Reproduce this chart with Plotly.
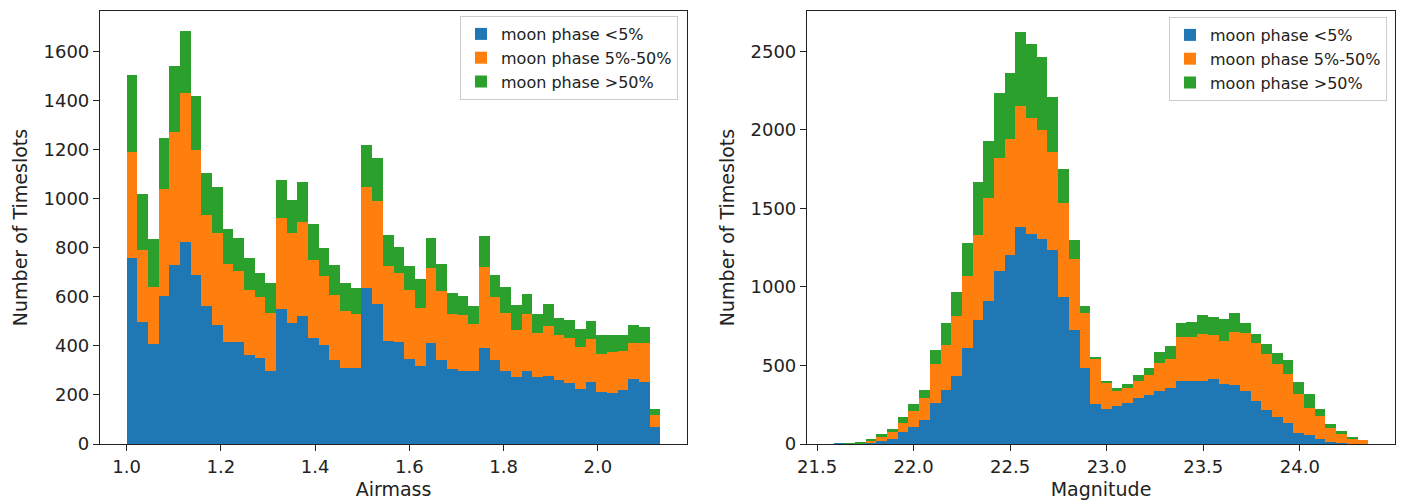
import plotly.graph_objects as go
from plotly.subplots import make_subplots

# ---------------- data ----------------
series_names = ["moon phase <5%", "moon phase 5%-50%", "moon phase >50%"]
colors = ["#1f77b4", "#ff7f0e", "#2ca02c"]

# Airmass histogram: 50 bins starting at 1.0
airmass_bin_start = 1.0
airmass_bin_width = 0.02265
airmass_new = [759, 497, 409, 602, 731, 823, 687, 561, 484, 416,
               416, 362, 352, 297, 550, 493, 521, 432, 405, 344,
               308, 308, 636, 569, 420, 416, 348, 317, 412, 342,
               304, 298, 298, 392, 344, 298, 274, 298, 271, 277,
               260, 249, 226, 254, 213, 209, 220, 263, 254, 68]
airmass_mid = [432, 292, 231, 435, 539, 606, 511, 370, 377, 316,
               289, 267, 247, 238, 372, 368, 382, 319, 278, 265,
               233, 223, 411, 419, 304, 282, 281, 239, 306, 282,
               227, 227, 189, 329, 255, 236, 192, 233, 183, 203,
               183, 181, 170, 172, 152, 167, 158, 149, 158, 50]
airmass_full = [312, 228, 196, 210, 271, 252, 221, 172, 186, 142,
                135, 130, 98, 122, 152, 135, 165, 146, 115, 122,
                116, 105, 172, 178, 126, 104, 95, 118, 122, 111,
                86, 77, 76, 125, 88, 106, 99, 82, 77, 92,
                71, 74, 74, 76, 78, 67, 65, 72, 63, 23]

# Magnitude histogram: 50 bins starting at 21.586
mag_bin_start = 21.586
mag_bin_width = 0.05537
mag_new = [1, 3, 4, 8, 20, 33, 75, 110, 155, 263,
           344, 435, 609, 790, 911, 1104, 1204, 1380, 1338, 1304,
           1236, 938, 726, 482, 255, 221, 240, 262, 290, 310,
           338, 355, 400, 404, 400, 413, 384, 378, 340, 276,
           217, 170, 132, 72, 57, 30, 15, 4, 0, 0]
mag_mid = [0, 2, 2, 15, 25, 43, 59, 102, 136, 244,
           287, 380, 463, 541, 654, 720, 739, 769, 736, 696,
           622, 595, 452, 353, 285, 170, 100, 93, 112, 127,
           176, 185, 284, 280, 298, 278, 275, 333, 365, 365,
           357, 340, 314, 247, 170, 148, 85, 60, 36, 25]
mag_full = [0, 1, 2, 8, 17, 17, 40, 43, 53, 92,
            138, 155, 210, 340, 367, 414, 418, 477, 472, 461,
            350, 219, 121, 45, 15, 13, 17, 26, 38, 49,
            74, 87, 87, 91, 124, 120, 137, 124, 64, 58,
            61, 72, 89, 78, 90, 45, 25, 19, 11, 0]

airmass_ticks = [1.0, 1.2, 1.4, 1.6, 1.8, 2.0]
airmass_counts_ticks = [0, 200, 400, 600, 800, 1000, 1200, 1400, 1600]
mag_ticks = [21.5, 22.0, 22.5, 23.0, 23.5, 24.0]
mag_counts_ticks = [0, 500, 1000, 1500, 2000, 2500]

# ---------------- figure ----------------
W, H = 1403, 500
ML, MR, MT, MB = 100, 8, 11, 56
PW = W - ML - MR
PH = H - MT - MB

def px_x(p):
    return (p - ML) / PW

def px_y(p):
    return (H - MB - p) / PH

fig = make_subplots(rows=1, cols=2)

air_centers = [airmass_bin_start + (k + 0.5) * airmass_bin_width for k in range(len(airmass_new))]
mag_centers = [mag_bin_start + (k + 0.5) * mag_bin_width for k in range(len(mag_new))]

for name, col, vals in zip(series_names, colors, [airmass_new, airmass_mid, airmass_full]):
    fig.add_trace(go.Bar(x=air_centers, y=vals, width=airmass_bin_width, name=name,
                         marker=dict(color=col, line=dict(width=0)), legend="legend"),
                  row=1, col=1)
for name, col, vals in zip(series_names, colors, [mag_new, mag_mid, mag_full]):
    fig.add_trace(go.Bar(x=mag_centers, y=vals, width=mag_bin_width, name=name,
                         marker=dict(color=col, line=dict(width=0)), legend="legend2"),
                  row=1, col=2)

FONT = "DejaVu Sans"
tick_font = dict(family=FONT, size=18, color="#222")
title_font = dict(family=FONT, size=19, color="#222")

axis_common = dict(showline=True, mirror=True, linecolor="#222", linewidth=1.2,
                   ticks="outside", ticklen=6, tickwidth=1.2, tickcolor="#222",
                   showgrid=False, zeroline=False, tickfont=tick_font, automargin=False)

fig.update_xaxes(domain=[0, px_x(687)], range=[0.9434, 2.1891], tickvals=airmass_ticks,
                 tickformat=".1f", title=dict(text="Airmass", font=title_font, standoff=8),
                 row=1, col=1, **axis_common)
fig.update_xaxes(domain=[px_x(807), px_x(1395)], range=[21.448, 24.493], tickvals=mag_ticks,
                 tickformat=".1f", title=dict(text="Magnitude", font=title_font, standoff=8),
                 row=1, col=2, **axis_common)
fig.update_yaxes(range=[0, 1764], tickvals=airmass_counts_ticks,
                 title=dict(text="Number of Timeslots", font=title_font, standoff=10),
                 row=1, col=1, **axis_common)
fig.update_yaxes(range=[0, 2757], tickvals=mag_counts_ticks,
                 title=dict(text="Number of Timeslots", font=title_font, standoff=10),
                 row=1, col=2, **axis_common)

legend_style = dict(font=dict(family=FONT, size=16, color="#222"),
                    bgcolor="rgba(255,255,255,0.8)", bordercolor="#cccccc", borderwidth=1,
                    xanchor="right", yanchor="top", itemwidth=30, traceorder="normal",
                    tracegroupgap=0)
fig.update_layout(
    width=W, height=H,
    margin=dict(l=ML, r=MR, t=MT, b=MB),
    barmode="stack", bargap=0, bargroupgap=0,
    plot_bgcolor="white", paper_bgcolor="white",
    font=dict(family=FONT, color="#222"),
    legend=dict(x=px_x(678), y=px_y(16), **legend_style),
    legend2=dict(x=px_x(1387), y=px_y(17), **legend_style),
)

fig.write_html("out.html")
